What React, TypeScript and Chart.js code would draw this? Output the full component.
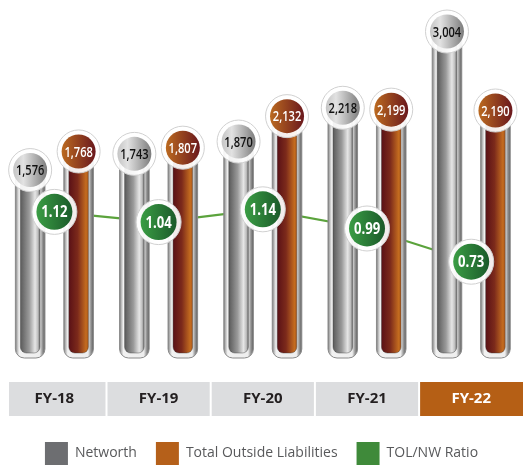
import React, { useEffect, useRef } from "react";
import { Chart, registerables } from "chart.js";

Chart.register(...registerables);

// ---- data ----
const categories = ["FY-18", "FY-19", "FY-20", "FY-21", "FY-22"];
const networth = [1576, 1743, 1870, 2218, 3004];
const totalOutsideLiabilities = [1768, 1807, 2132, 2199, 2190];
const tolNwRatio = [1.12, 1.04, 1.14, 0.99, 0.73];
const seriesNames = ["Networth", "Total Outside Liabilities", "TOL/NW Ratio"];
const seriesColors = ["#6d6e71", "#b5601a", "#3f8a3a"];
const highlightedCategory = "FY-22";

// ---- scale ranges ----
const Y_MIN = -361;
const Y_MAX = 3329;
const R_MIN = -0.0235;
const R_MAX = 2.778;
const X_MIN = -0.522;
const X_MAX = 4.44;

function roundedBottomRect(ctx: CanvasRenderingContext2D, x: number, y: number, w: number, h: number, r: number) {
  ctx.beginPath();
  ctx.moveTo(x, y);
  ctx.lineTo(x + w, y);
  ctx.lineTo(x + w, y + h - r);
  ctx.arcTo(x + w, y + h, x + w - r, y + h, r);
  ctx.lineTo(x + r, y + h);
  ctx.arcTo(x, y + h, x, y + h - r, r);
  ctx.closePath();
}

function hGrad(ctx: CanvasRenderingContext2D, x0: number, x1: number, stops: [number, string][]) {
  const g = ctx.createLinearGradient(x0, 0, x1, 0);
  stops.forEach(([o, c]) => g.addColorStop(o, c));
  return g;
}

const innerStops: [number, string][][] = [
  [
    [0, "#5a5a5a"],
    [0.45, "#9a9a9a"],
    [0.75, "#e6e6e6"],
    [0.9, "#bdbdbd"],
    [1, "#6a6a6a"],
  ],
  [
    [0, "#5a1116"],
    [0.45, "#7c2a1b"],
    [0.88, "#c46c1f"],
    [1, "#a8561a"],
  ],
];

const badgeStops: [number, string][][] = [
  [
    [0, "#c4c4c4"],
    [0.3, "#e2e2e2"],
    [1, "#7c7c7c"],
  ],
  [
    [0, "#bb6a20"],
    [1, "#6a181d"],
  ],
  [
    [0, "#3a9d44"],
    [1, "#1b5a2a"],
  ],
];

function drawBadge(
  ctx: CanvasRenderingContext2D,
  x: number,
  y: number,
  r: number,
  stops: [number, string][],
  text: string,
  color: string,
  size: number,
  weight: number,
  sx: number
) {
  ctx.save();
  ctx.beginPath();
  ctx.arc(x, y, r + 4.5, 0, Math.PI * 2);
  ctx.fillStyle = "rgba(255,255,255,0.92)";
  ctx.fill();
  ctx.lineWidth = 1;
  ctx.strokeStyle = "#d0d0d0";
  ctx.stroke();
  ctx.beginPath();
  ctx.arc(x, y, r, 0, Math.PI * 2);
  ctx.fillStyle = hGrad(ctx, x - r, x + r, stops);
  ctx.fill();
  ctx.translate(x, y);
  ctx.scale(sx, 1);
  ctx.font = `${weight} ${size}px "Open Sans"`;
  ctx.textAlign = "center";
  ctx.textBaseline = "middle";
  ctx.fillStyle = color;
  ctx.fillText(text, 0, 1);
  ctx.restore();
}

const tubePlugin = {
  id: "tubes",
  beforeDraw(chart: any) {
    const { ctx, chartArea, scales } = chart;
    const xs = scales.x;
    const px = categories.map((_, i) => xs.getPixelForValue(i));
    const bounds: number[] = [9];
    for (let i = 1; i < px.length; i++) bounds.push((px[i - 1] + px[i]) / 2);
    bounds.push(chart.width);
    const top = chartArea.bottom + 24;
    ctx.save();
    categories.forEach((c, i) => {
      const l = i === 0 ? bounds[i] : bounds[i] + 1;
      const r = i === categories.length - 1 ? bounds[i + 1] : bounds[i + 1] - 1;
      ctx.fillStyle = c === highlightedCategory ? "#b55f15" : "#dcdddf";
      ctx.fillRect(l, top, r - l, 34);
    });
    ctx.restore();
  },
  beforeDatasetDraw(chart: any, args: any) {
    const meta = args.meta;
    if (meta.type !== "bar") return;
    const ctx: CanvasRenderingContext2D = chart.ctx;
    const di = args.index;
    ctx.save();
    meta.data.forEach((el: any) => {
      const w = el.width;
      const x0 = el.x - w / 2;
      const top = el.y;
      const bot = el.base;
      roundedBottomRect(ctx, x0, top, w, bot - top, 9);
      ctx.fillStyle = hGrad(ctx, x0, x0 + w, [
        [0, "#777777"],
        [0.06, "#b8b8b8"],
        [0.13, "#f2f2f2"],
        [0.82, "#eeeeee"],
        [0.91, "#999999"],
        [1, "#5c5c5c"],
      ]);
      ctx.fill();
      ctx.lineWidth = 1;
      ctx.strokeStyle = "#8a8a8a";
      ctx.stroke();
      const inset = 5;
      roundedBottomRect(ctx, x0 + inset, top, w - 2 * inset, bot - top - inset, 6);
      ctx.fillStyle = hGrad(ctx, x0 + inset, x0 + w - inset, innerStops[di]);
      ctx.fill();
      ctx.lineWidth = 0.8;
      ctx.strokeStyle = "rgba(60,60,60,0.5)";
      ctx.stroke();
    });
    ctx.restore();
    return false;
  },
  afterDatasetsDraw(chart: any) {
    const ctx: CanvasRenderingContext2D = chart.ctx;
    [0, 1].forEach((di) => {
      const meta = chart.getDatasetMeta(di);
      const vals = di === 0 ? networth : totalOutsideLiabilities;
      meta.data.forEach((el: any, i: number) => {
        drawBadge(
          ctx,
          el.x,
          el.y,
          17,
          badgeStops[di],
          vals[i].toLocaleString("en-US"),
          di === 0 ? "#111111" : "#ffffff",
          15,
          600,
          0.74
        );
      });
    });
    const lm = chart.getDatasetMeta(2);
    lm.data.forEach((pt: any, i: number) => {
      drawBadge(ctx, pt.x, pt.y, 18, badgeStops[2], tolNwRatio[i].toFixed(2), "#ffffff", 16, 700, 0.82);
    });
  },
};

export default function App() {
  const ref = useRef<HTMLCanvasElement | null>(null);
  useEffect(() => {
    document.body.style.margin = "0";
    const canvas = ref.current;
    if (!canvas) return;
    const chart = new Chart(canvas, {
      type: "bar",
      data: {
        datasets: [
          {
            type: "bar",
            label: seriesNames[0],
            data: networth.map((v, i) => ({ x: i, y: v })),
            backgroundColor: seriesColors[0],
            base: Y_MIN,
            yAxisID: "y",
            categoryPercentage: 0.93,
            barPercentage: 0.61,
          } as any,
          {
            type: "bar",
            label: seriesNames[1],
            data: totalOutsideLiabilities.map((v, i) => ({ x: i, y: v })),
            backgroundColor: seriesColors[1],
            base: Y_MIN,
            yAxisID: "y",
            categoryPercentage: 0.93,
            barPercentage: 0.61,
          } as any,
          {
            type: "line",
            label: seriesNames[2],
            data: tolNwRatio.map((v, i) => ({ x: i, y: v })),
            borderColor: "#5ba33c",
            backgroundColor: seriesColors[2],
            borderWidth: 2.2,
            pointRadius: 0,
            yAxisID: "y2",
          } as any,
        ],
      },
      options: {
        responsive: false,
        animation: false,
        events: [],
        layout: { padding: { top: 0, left: 0, right: 0, bottom: -9 } },
        scales: {
          x: {
            type: "linear",
            offset: false,
            min: X_MIN,
            max: X_MAX,
            grid: { display: false, drawTicks: false, offset: false },
            border: { display: false },
            afterBuildTicks: (s: any) => {
              s.ticks = categories.map((_, i) => ({ value: i }));
            },
            afterFit: (s: any) => {
              s.height = 65;
            },
            ticks: {
              autoSkip: false,
              maxRotation: 0,
              padding: 32,
              font: { family: "Open Sans", size: 15, weight: "bold" },
              color: (c: any) => (categories[c.index] === highlightedCategory ? "#ffffff" : "#231f20"),
              callback: (v: any) => categories[v] ?? "",
            },
          } as any,
          y: { display: false, min: Y_MIN, max: Y_MAX },
          y2: { display: false, min: R_MIN, max: R_MAX, position: "right" },
        },
        plugins: {
          tooltip: { enabled: false },
          legend: {
            position: "bottom",
            labels: {
              boxWidth: 23,
              boxHeight: 23,
              padding: 19,
              color: "#58595b",
              font: { family: "Open Sans", size: 14 },
              generateLabels: () =>
                seriesNames.map((n, i) => ({
                  text: n,
                  fillStyle: seriesColors[i],
                  strokeStyle: seriesColors[i],
                  lineWidth: 0,
                  hidden: false,
                  datasetIndex: i,
                  fontColor: "#58595b",
                })),
            },
          },
        },
      },
      plugins: [tubePlugin],
    } as any);
    return () => chart.destroy();
  }, []);
  return (
    <div style={{ width: 523, height: 466 }}>
      <canvas ref={ref} width={523} height={466} style={{ display: "block" }} />
    </div>
  );
}
